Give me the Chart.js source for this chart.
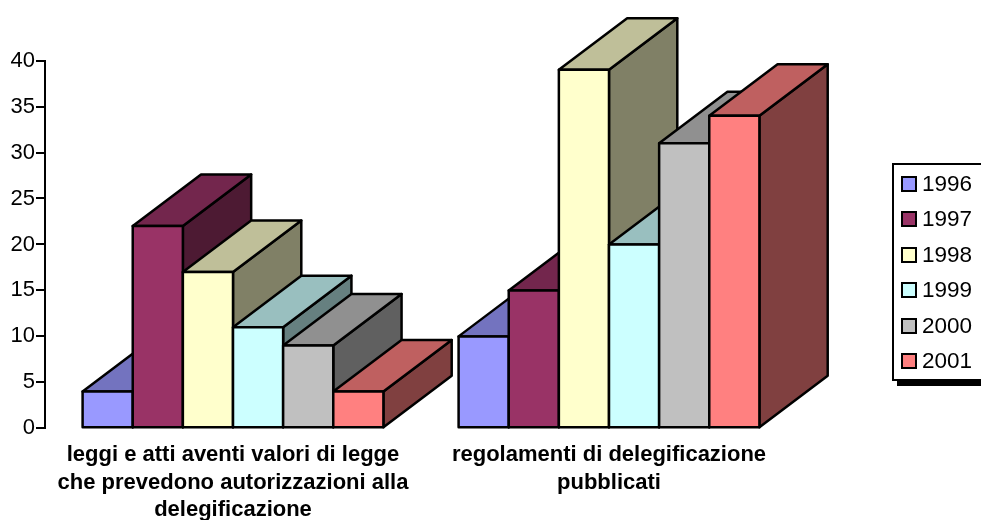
<!DOCTYPE html>
<html>
<head>
<meta charset="utf-8">
<style>
  html, body { margin: 0; padding: 0; background: #fff; overflow: hidden; }
  #wrap { position: relative; width: 981px; height: 520px; overflow: hidden; }
  #legend {
    position: absolute; left: 892px; top: 163px; width: 110px; height: 214px;
    border: 2px solid #000; background: #fff; box-shadow: 5px 5px 0 #000;
    font: 22.5px "Liberation Sans", Arial, sans-serif; color: #000;
  }
  #legend div { position: absolute; left: 28px; line-height: 24px; }
  #legend span {
    position: absolute; left: -21px; top: 4px; width: 12px; height: 12px;
    border: 2px solid #000;
  }
</style>
</head>
<body>
<div id="wrap">
  <canvas id="chart" width="981" height="520"></canvas>
  <div id="legend"></div>
</div>
<script src="https://cdn.jsdelivr.net/npm/chart.js@4"></script>
<script>
const categories = [
  ["leggi e atti aventi valori di legge", "che prevedono autorizzazioni alla", "delegificazione"],
  ["regolamenti di delegificazione", "pubblicati"],
];
const years = ["1996", "1997", "1998", "1999", "2000", "2001"];
const values1996 = [4, 10];
const values1997 = [22, 15];
const values1998 = [17, 39];
const values1999 = [11, 20];
const values2000 = [9, 31];
const values2001 = [4, 34];
const allValues = [values1996, values1997, values1998, values1999, values2000, values2001];
const colors = ["#9999FF", "#993366", "#FFFFCC", "#CCFFFF", "#C0C0C0", "#FF8080"];
const yTicks = { min: 0, max: 40, step: 5 };

// how far the fake 3D depth goes back
const depthX = 68.3;
const depthY = 51.5;

function shade(hex, k) {
  const n = parseInt(hex.slice(1), 16);
  const r = Math.round((n >> 16) * k);
  const g = Math.round(((n >> 8) & 255) * k);
  const b = Math.round((n & 255) * k);
  return `rgb(${r},${g},${b})`;
}

function poly(ctx, pts, fill) {
  ctx.beginPath();
  pts.forEach((p, i) => (i ? ctx.lineTo(p[0], p[1]) : ctx.moveTo(p[0], p[1])));
  ctx.closePath();
  ctx.fillStyle = fill;
  ctx.fill();
  ctx.stroke();
}

// chart.js paints the last dataset first, here we need 1996 first so each
// bar covers the depth of the one on its left
const depthPlugin = {
  id: "depth",
  beforeDatasetsDraw(chart) {
    const ctx = chart.ctx;
    years.forEach((year, i) => {
      const color = colors[i];
      chart.getDatasetMeta(i).data.forEach((bar) => {
        const l = bar.x - bar.width / 2;
        const r = bar.x + bar.width / 2;
        const t = bar.y;
        const b = bar.base;
        ctx.save();
        ctx.lineWidth = 2.5;
        ctx.strokeStyle = "#000";
        ctx.lineJoin = "round";
        poly(ctx, [[r, t], [r + depthX, t - depthY], [r + depthX, b - depthY], [r, b]], shade(color, 0.5));
        poly(ctx, [[l, t], [l + depthX, t - depthY], [r + depthX, t - depthY], [r, t]], shade(color, 0.75));
        bar.draw(ctx);
        // outline centred on the bar edge, the built-in border sits inside it
        ctx.strokeRect(l, t, r - l, b - t);
        ctx.restore();
      });
    });
    return false;
  },
};

new Chart(document.getElementById("chart"), {
  type: "bar",
  data: {
    labels: categories,
    datasets: years.map((year, i) => ({
      label: year,
      data: allValues[i],
      backgroundColor: colors[i],
      borderWidth: 0,
      categoryPercentage: 0.8,
      barPercentage: 1,
    })),
  },
  plugins: [depthPlugin],
  options: {
    responsive: false,
    animation: false,
    layout: { padding: { top: 60.6, right: 184, left: 0, bottom: 0 } },
    plugins: { legend: { display: false }, tooltip: { enabled: false } },
    scales: {
      x: {
        border: { display: false },
        grid: { display: false },
        afterFit(scale) { scale.height = 91.7; },
        ticks: {
          color: "#000",
          padding: 5,
          autoSkip: false,
          maxRotation: 0,
          font: { family: "Liberation Sans", size: 22, weight: "bold", lineHeight: 1.25 },
        },
      },
      y: {
        min: yTicks.min,
        max: yTicks.max,
        border: { color: "#000", width: 2 },
        grid: { drawOnChartArea: false, color: "#000", lineWidth: 2, tickLength: 9 },
        afterFit(scale) { scale.width = 45; },
        ticks: {
          stepSize: yTicks.step,
          color: "#000",
          padding: 1,
          font: { family: "Liberation Sans", size: 22 },
        },
      },
    },
  },
});

const legend = document.getElementById("legend");
years.forEach((year, i) => {
  const row = document.createElement("div");
  row.style.top = 6.5 + i * 35.5 + "px";
  row.innerHTML = `<span style="background:${colors[i]}"></span>${year}`;
  legend.appendChild(row);
});
</script>
</body>
</html>
